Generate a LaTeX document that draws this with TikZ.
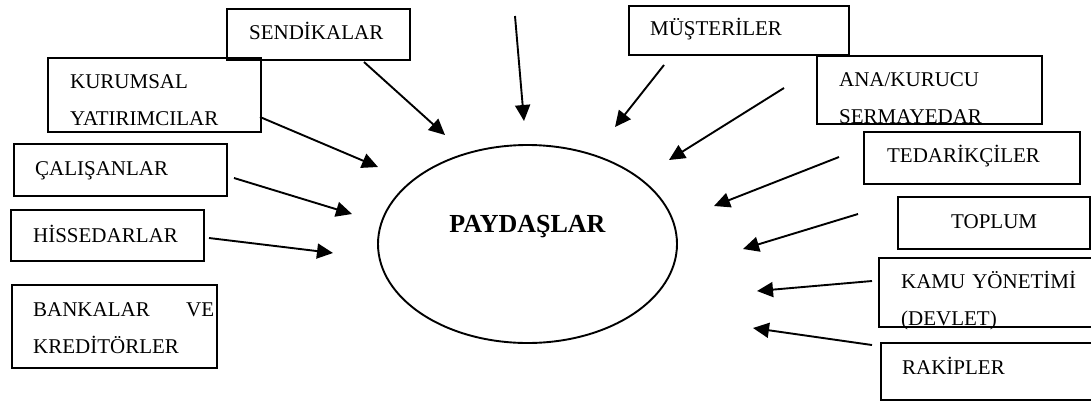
\documentclass[tikz,border=0pt]{standalone}
\usepackage{fontspec}
\setmainfont{Liberation Serif}
\usepackage{tikz}
\usetikzlibrary{positioning,arrows.meta,shapes.geometric}

\begin{document}
\begin{tikzpicture}[x=1pt,y=-1pt,
   box/.style={draw,line width=2.3pt,anchor=north west,inner ysep=0pt,align=left,
     font=\fontsize{21}{37}\selectfont},
   arr/.style={-{Triangle[length=16pt,width=15pt]},line width=1.9pt}]
  \useasboundingbox (0,0) rectangle (1091,400);
  % the centre
  \node[draw,ellipse,line width=1.9pt,minimum width=299pt,minimum height=198pt,
    inner sep=0pt,font=\fontsize{26}{30}\selectfont\bfseries,
    text height=17pt,text depth=41pt] (pay) at (527.5,244) {PAYDAŞLAR};
  % left side
  \node[box,inner xsep=22pt,text width=139pt,text height=30pt,text depth=21pt] (send) at (226,8) {SENDİKALAR};
  \node[box,inner xsep=22pt,text width=169pt,text height=30pt,text depth=44pt] (kurum) at (47,57) {KURUMSAL\\YATIRIMCILAR};
  \node[box,inner xsep=21pt,text width=171pt,text height=31pt,text depth=21pt] (calis) at (13,143) {ÇALIŞANLAR};
  \node[box,inner xsep=22pt,text width=149pt,text height=32pt,text depth=19pt] (hisse) at (10,209) {HİSSEDARLAR};
  \node[box,inner xsep=21pt,text width=163pt,text height=31pt,text depth=52pt] (banka) at (11,284) {BANKALAR\hfill\makebox[10pt][l]{VE}\\KREDİTÖRLER};
  % right side
  \node[box,inner xsep=21pt,text width=178pt,text height=29pt,text depth=20pt] (muster) at (628,5) {MÜŞTERİLER};
  \node[box,inner xsep=22pt,text width=181pt,text height=30pt,text depth=38pt] (ana) at (816,55) {ANA/KURUCU\\SERMAYEDAR};
  \node[box,inner xsep=23pt,text width=170pt,text height=30pt,text depth=22pt] (tedar) at (863,131) {TEDARİKÇİLER};
  \node[box,align=center,inner xsep=20pt,text width=152pt,text height=31pt,text depth=21pt] (toplum) at (897,196) {TOPLUM};
  \node[box,inner xsep=22pt,text width=178pt,text height=30pt,text depth=39pt] (kamu) at (878,257) {KAMU YÖNETİMİ\\(DEVLET)};
  \node[box,inner xsep=21pt,text width=178pt,text height=31pt,text depth=26pt] (rakip) at (880,342) {RAKİPLER};
  % arrow ends
  \coordinate (top-s) at (515,16);    \coordinate (top-t) at (524,121);
  \coordinate (send-s) at (364,62);   \coordinate (send-t) at (445,135);
  \coordinate (kurum-s) at (260,117); \coordinate (kurum-t) at (378,167);
  \coordinate (calis-s) at (234,178); \coordinate (calis-t) at (352,214);
  \coordinate (hisse-s) at (209,238); \coordinate (hisse-t) at (333,253);
  \coordinate (muster-s) at (664,65); \coordinate (muster-t) at (615,127);
  \coordinate (ana-s) at (784,88);    \coordinate (ana-t) at (669,160);
  \coordinate (tedar-s) at (839,157); \coordinate (tedar-t) at (714,206);
  \coordinate (toplum-s) at (858,214);\coordinate (toplum-t) at (743,249);
  \coordinate (kamu-s) at (872,281);  \coordinate (kamu-t) at (757,291);
  \coordinate (rakip-s) at (872,345); \coordinate (rakip-t) at (753,328);
  \foreach \n in {top,send,kurum,calis,hisse,muster,ana,tedar,toplum,kamu,rakip}
    \draw[arr] (\n-s) -- (\n-t);
\end{tikzpicture}
\end{document}
